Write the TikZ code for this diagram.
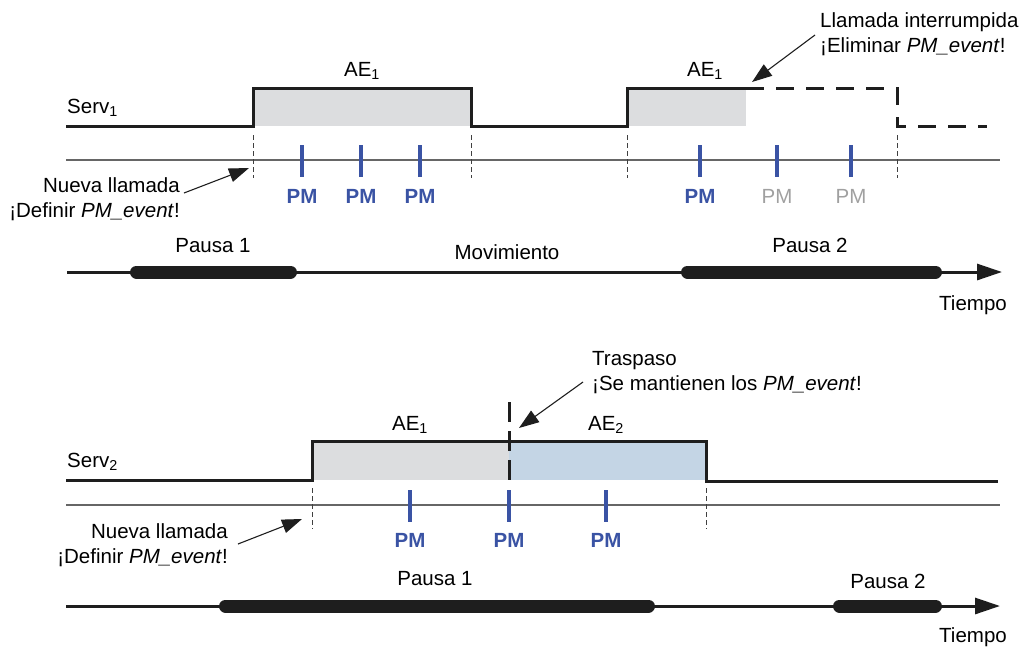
\documentclass[tikz,border=0pt]{standalone}
\usepackage{fontspec}
\setmainfont{Liberation Sans}
\usetikzlibrary{arrows.meta}
\definecolor{pmblue}{RGB}{58,83,164}
\definecolor{aegray}{RGB}{220,221,223}
\definecolor{aeblue}{RGB}{196,213,229}
\definecolor{pmgray}{RGB}{160,160,160}
\definecolor{sigblack}{RGB}{30,30,30}
\begin{document}
\begin{tikzpicture}[x=1pt,y=-1pt,
  font=\fontsize{20.5}{24}\selectfont,
  lbl/.style={inner sep=0pt, anchor=base},
  sig/.style={line width=3pt, draw=sigblack, line join=miter},
  sigdash/.style={sig, dash pattern=on 18pt off 12pt},
  handover/.style={line width=3pt, draw=sigblack, dash pattern=on 20pt off 9pt},
  axisln/.style={line width=1.3pt, draw=black!60},
  guideln/.style={line width=1pt, draw=black!75, dash pattern=on 5pt off 3pt},
  pmtick/.style={line width=3.4pt, draw=pmblue},
  pmlbl/.style={lbl, font=\fontsize{20.5}{24}\selectfont\bfseries, text=pmblue},
  pmoff/.style={lbl, text=pmgray},
  pausebar/.style={line width=13pt, line cap=round, draw=sigblack},
  timeln/.style={line width=3pt, draw=sigblack, -{Triangle[length=25pt,width=16pt]}},
  callout/.style={line width=1.1pt, draw=sigblack, -{Triangle[length=20pt,width=14pt]}},
]
\useasboundingbox (0,0) rectangle (1026,646);

% ================= TOP PANEL =================
\node[lbl, anchor=base west] (serv1) at (67,113) {Serv\textsubscript{1}};
\fill[aegray] (253,88) rectangle (471,126);
\fill[aegray] (627,88) rectangle (746,126);
\draw[sig] (66,126) -- (253,126) -- (253,88) -- (471,88) -- (471,126) -- (627,126) -- (627,88) -- (746,88);
\draw[sigdash] (746,88) -- (897,88) -- (897,126) -- (987,126);
\node[lbl] (ae1a) at (362,76) {AE\textsubscript{1}};
\node[lbl] (ae1b) at (705,76) {AE\textsubscript{1}};

\draw[axisln] (66,160) -- (1000,160);
\foreach \x in {253,471,627,897} \draw[guideln] (\x,135) -- (\x,178);
\foreach \x in {302,361,420,700,777,851} \draw[pmtick] (\x,145) -- (\x,177);
\node[pmlbl] (pm1) at (302,203) {PM};
\node[pmlbl] (pm2) at (361,203) {PM};
\node[pmlbl] (pm3) at (420,203) {PM};
\node[pmlbl] (pm4) at (700,203) {PM};
\node[pmoff] (pm5) at (777,203) {PM};
\node[pmoff] (pm6) at (851,203) {PM};

\node[lbl, anchor=base east] (nl1) at (180,192) {Nueva llamada};
\node[lbl, anchor=base east] (df1) at (180,217) {¡Definir \textit{PM\_event}!};
\coordinate (nl1tip) at (249,168);
\draw[callout] ([xshift=4pt,yshift=-1pt]nl1.base east) -- (nl1tip);

\node[lbl, anchor=base west] (li) at (820,27) {Llamada interrumpida};
\node[lbl, anchor=base west] (el) at (820,52) {¡Eliminar \textit{PM\_event}!};
\coordinate (eltip) at (752,82);
\draw[callout] ([xshift=-5pt,yshift=-8pt]li.base west) -- (eltip);

\node[lbl] (p11) at (213,252) {Pausa 1};
\node[lbl] (mov) at (507,259) {Movimiento};
\node[lbl] (p12) at (810,252) {Pausa 2};
\node[lbl, anchor=base east] (t1) at (1007,310) {Tiempo};
\coordinate (t1s) at (67,272);
\coordinate (t1e) at (1002,272);
\draw[timeln] (t1s) -- (t1e);
\draw[pausebar] (136.5,272) -- (290.5,272);
\draw[pausebar] (687.5,272) -- (935.5,272);

% ================= BOTTOM PANEL =================
\node[lbl, anchor=base west] (serv2) at (67,467) {Serv\textsubscript{2}};
\fill[aegray] (312,441) rectangle (509,480);
\fill[aeblue] (509,441) rectangle (706,480);
\draw[sig] (66,480) -- (312,480) -- (312,441) -- (706,441) -- (706,481) -- (998,481);
\draw[handover] (509,402) -- (509,481);
\node[lbl] (ae21) at (410,430) {AE\textsubscript{1}};
\node[lbl] (ae22) at (606,430) {AE\textsubscript{2}};

\draw[axisln] (66,505) -- (1000,505);
\foreach \x in {312,706} \draw[guideln] (\x,488) -- (\x,529);
\foreach \x in {410,509,606} \draw[pmtick] (\x,490) -- (\x,522);
\node[pmlbl] (pm7) at (410,547) {PM};
\node[pmlbl] (pm8) at (509,547) {PM};
\node[pmlbl] (pm9) at (606,547) {PM};

\node[lbl, anchor=base east] (nl2) at (228,538) {Nueva llamada};
\node[lbl, anchor=base east] (df2) at (228,563) {¡Definir \textit{PM\_event}!};
\coordinate (nl2tip) at (302,519);
\draw[callout] ([xshift=10pt,yshift=-6pt]nl2.base east) -- (nl2tip);

\node[lbl, anchor=base west] (tr) at (592,365) {Traspaso};
\node[lbl, anchor=base west] (sm) at (592,390) {¡Se mantienen los \textit{PM\_event}!};
\coordinate (trtip) at (519,428);
\draw[callout] ([xshift=-9pt,yshift=8pt]sm.base west) -- (trtip);

\node[lbl] (p21) at (435,585) {Pausa 1};
\node[lbl] (p22) at (888,588) {Pausa 2};
\node[lbl, anchor=base east] (t2) at (1007,642) {Tiempo};
\coordinate (t2s) at (66,606);
\coordinate (t2e) at (1000,606);
\draw[timeln] (t2s) -- (t2e);
\draw[pausebar] (225.5,606) -- (648.5,606);
\draw[pausebar] (839.5,606) -- (935.5,606);
\end{tikzpicture}
\end{document}
